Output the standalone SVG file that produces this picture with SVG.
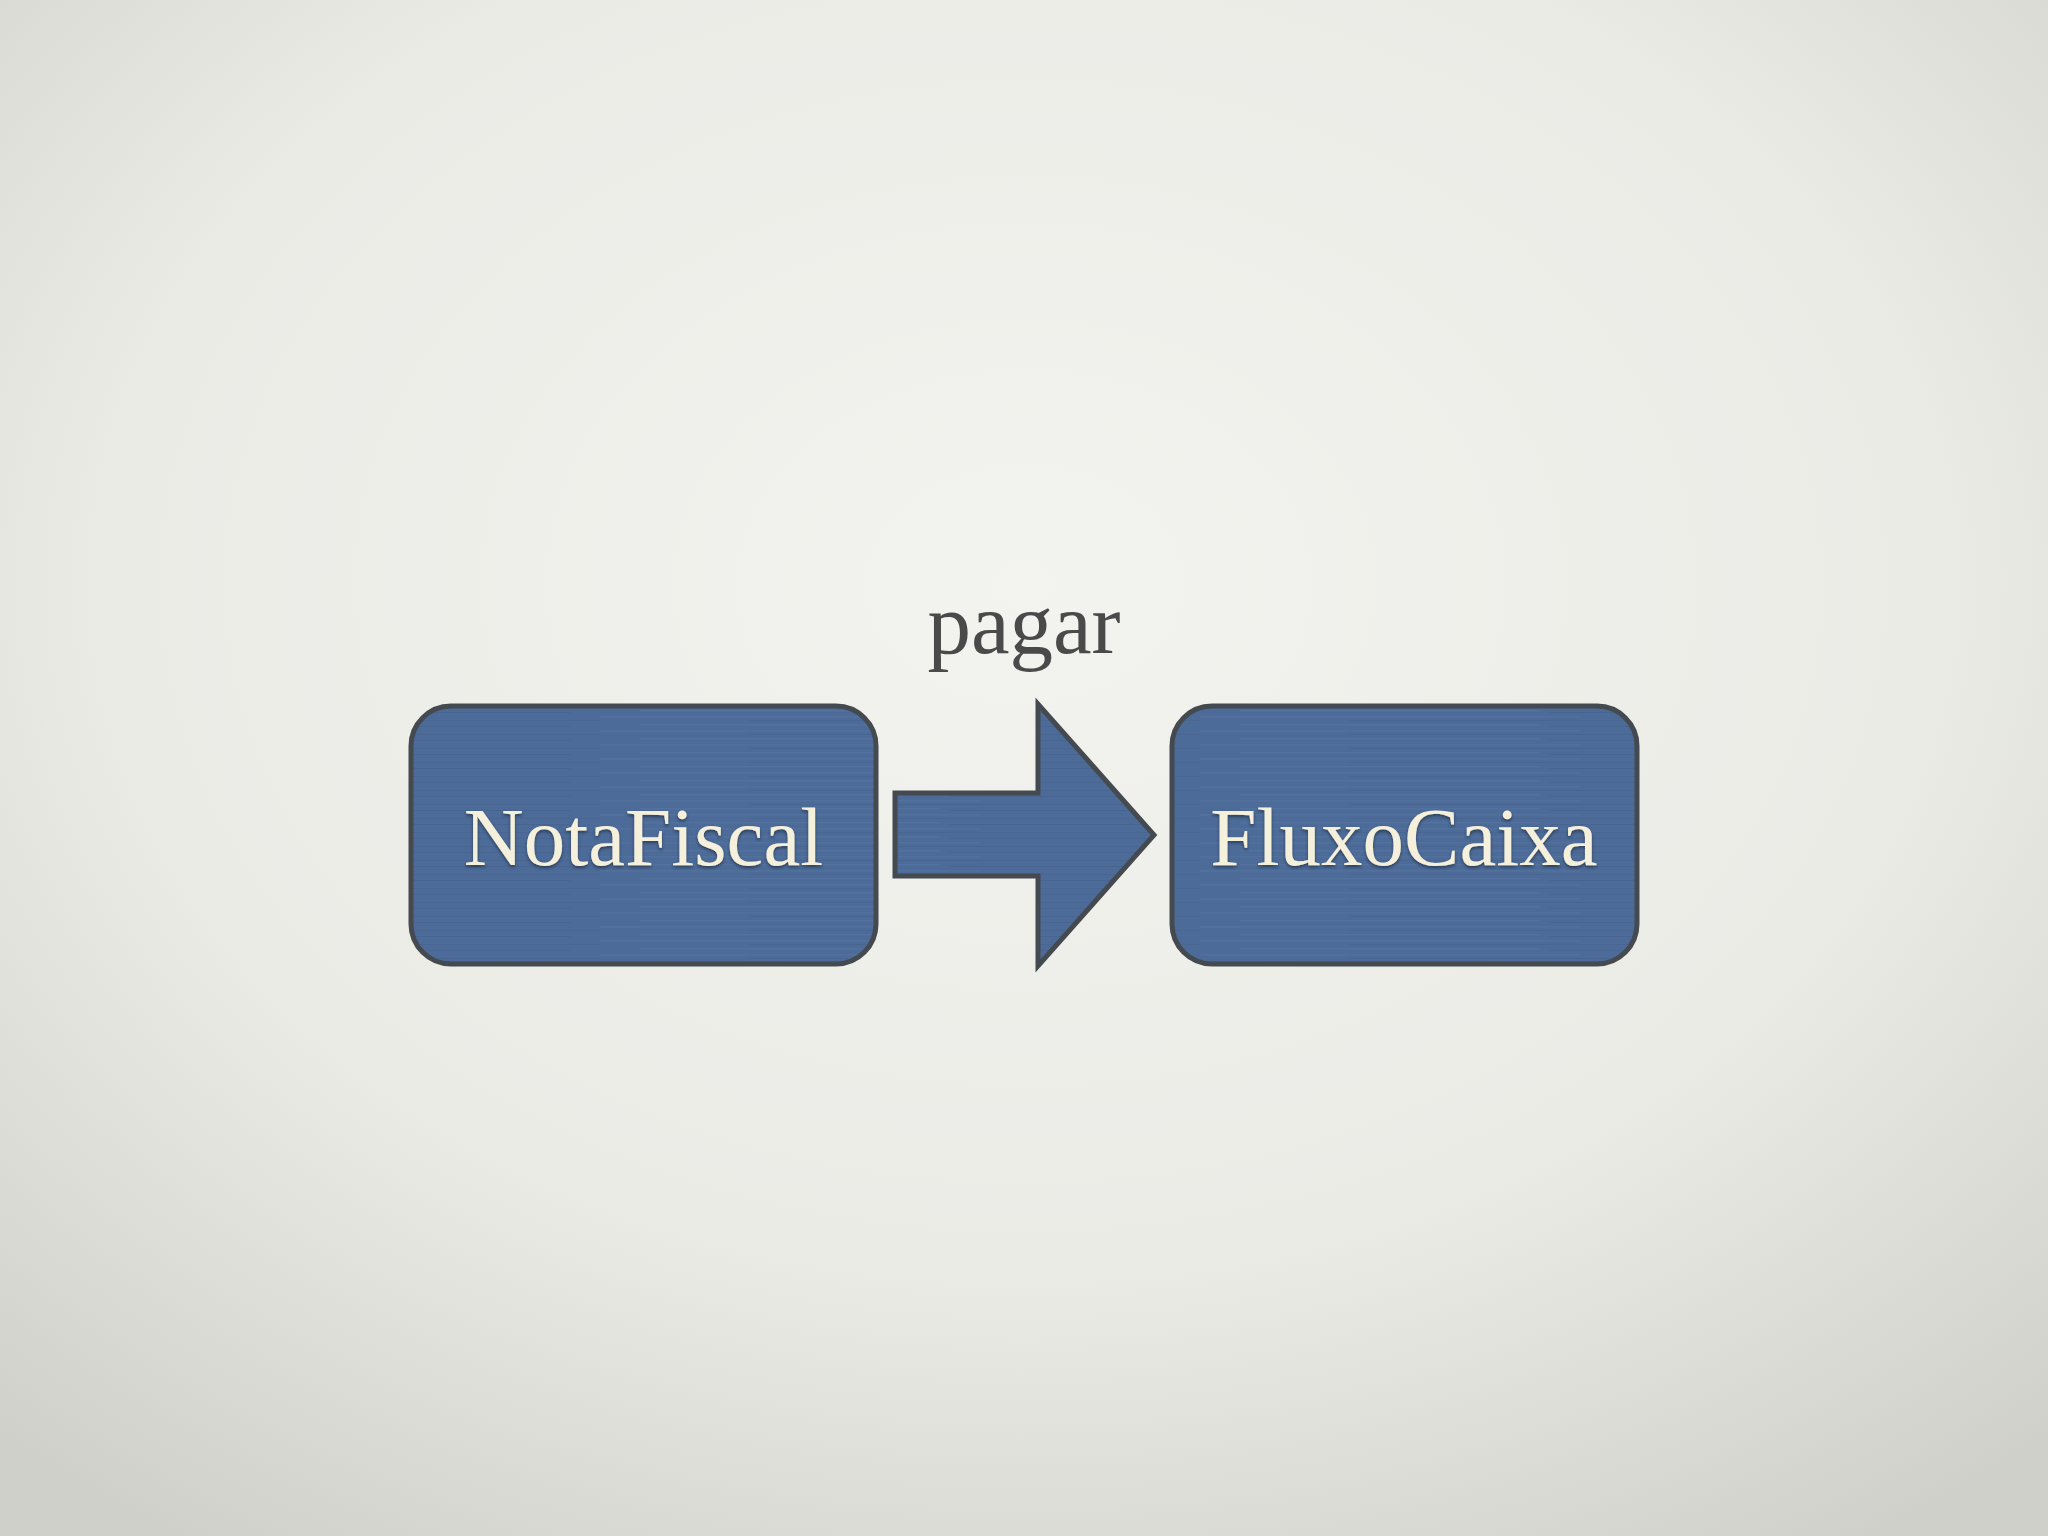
<svg xmlns="http://www.w3.org/2000/svg" width="2048" height="1536" viewBox="0 0 2048 1536">
  <defs>
    <radialGradient id="bg" cx="50%" cy="38%" r="75%">
      <stop offset="0" stop-color="#f3f3ef"/>
      <stop offset="0.6" stop-color="#ebebe6"/>
      <stop offset="1" stop-color="#cfd0ca"/>
    </radialGradient>
    <pattern id="brush" width="600" height="14" patternUnits="userSpaceOnUse">
      <rect width="600" height="14" fill="#4d6b98"/>
      <rect x="0" y="2" width="380" height="1.5" fill="#55739f" opacity="0.6"/>
      <rect x="150" y="6" width="450" height="1.2" fill="#46638f" opacity="0.6"/>
      <rect x="40" y="10" width="300" height="1.5" fill="#5877a3" opacity="0.5"/>
      <rect x="350" y="12" width="220" height="1" fill="#44608c" opacity="0.6"/>
    </pattern>
    <filter id="tshadow" x="-5%" y="-20%" width="110%" height="140%">
      <feDropShadow dx="0" dy="2" stdDeviation="1.5" flood-color="#1e2a3c" flood-opacity="0.7"/>
    </filter>
  </defs>
  <style>
    .box { fill: url(#brush); stroke: #444a4f; stroke-width: 5; }
    .label { font-family: "Liberation Serif", "Times New Roman", serif; font-size: 83px; fill: #f4f0dc; text-anchor: middle; }
    .edge-label { font-family: "Liberation Serif", "Times New Roman", serif; font-size: 87px; fill: #4a4a4a; text-anchor: middle; }
  </style>
  <rect width="2048" height="1536" fill="url(#bg)"/>

  <g id="node-notafiscal">
    <rect class="box" x="411" y="706" width="465" height="258" rx="40" ry="40"/>
    <text class="label" x="643.5" y="865" filter="url(#tshadow)">NotaFiscal</text>
  </g>

  <g id="node-fluxocaixa">
    <rect class="box" x="1172" y="706" width="465" height="258" rx="40" ry="40"/>
    <text class="label" x="1404" y="865" filter="url(#tshadow)">FluxoCaixa</text>
  </g>

  <g id="connectors">
    <g id="edge-pagar">
      <path class="box" d="M895,793 L1038,793 L1038,704 L1154,835 L1038,966 L1038,876 L895,876 Z" stroke-linejoin="miter"/>
      <text class="edge-label" x="1024" y="653">pagar</text>
    </g>
  </g>
</svg>
